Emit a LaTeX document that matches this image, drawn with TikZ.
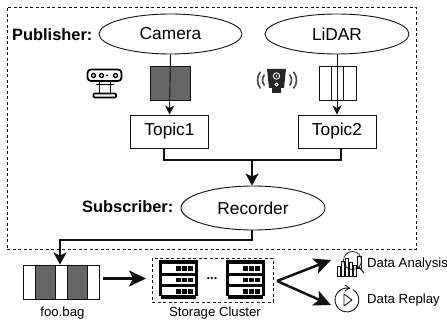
\documentclass[tikz,border=0pt]{standalone}
\usepackage{fontspec}
\setmainfont{Liberation Sans}
\usetikzlibrary{arrows.meta,shapes.geometric}
\definecolor{grayfill}{HTML}{666666}
\definecolor{ink}{HTML}{111111}
\tikzset{
  x=1pt,y=-1pt,
  oval/.style={draw=ink,ellipse,line width=0.9pt,minimum width=#1,minimum height=40pt,inner sep=0pt,font=\fontsize{17.3}{19}\selectfont},
  topicbox/.style={draw=ink,line width=0.9pt,minimum width=78pt,minimum height=33pt,inner sep=0pt,font=\fontsize{17.3}{19}\selectfont},
  seg/.style={draw=ink,line width=0.9pt,minimum height=34pt,inner sep=0pt,minimum width=#1},
  boundbox/.style={draw=ink,dashed,dash pattern=on 3pt off 2.5pt,line width=0.9pt},
  thinarrow/.style={draw=ink,line width=0.9pt,-{Stealth[length=9pt,width=9pt,inset=2.5pt]}},
  thickarrow/.style={draw=ink,line width=1.9pt,-{Stealth[length=12pt,width=13pt,inset=3pt]}},
  bigarrow/.style={draw=ink,line width=2.5pt,-{Stealth[length=17pt,width=16pt,inset=4pt]}},
  thickline/.style={draw=ink,line width=1.9pt},
  lab/.style={inner sep=0pt,font=\fontsize{13.2}{15}\selectfont},
  boldlab/.style={inner sep=0pt,font=\fontsize{16.4}{18}\selectfont\bfseries},
  server/.pic={
    \fill[black] (0,0) rectangle (39,36);
    \fill[black] (2,36) rectangle (37,39);
    \foreach \a/\b in {4/12.5,16/23.5,27/35}{
      \fill[white] (3,\a) rectangle (36,\b);
      \fill[black] (17,\a+1.5) rectangle (22,\b-1.5);
      \fill[black] (23,\a+1.5) rectangle (28,\b-1.5);
      \fill[black] (29,\a+1.5) rectangle (34,\b-1.5);
    }
  }
}
\begin{document}
\begin{tikzpicture}
\useasboundingbox (0,0) rectangle (447,323);
% outer dashed box
\node[boundbox,minimum width=409pt,minimum height=242pt,inner sep=0pt] (pubbox) at (211.5,128) {};
% ellipses
\node[oval=143pt] (camera) at (170.5,34) {Camera};
\node[oval=144pt] (lidar) at (337,34) {LiDAR};
\node[oval=144pt,minimum height=44pt] (recorder) at (253,208) {Recorder};
% labels
\node[boldlab,anchor=west] (publisher) at (12,35) {Publisher:};
\node[boldlab,anchor=west] (subscriber) at (82,207) {Subscriber:};
% messages
\node[seg=40pt,fill=grayfill] (msgcam) at (170,83) {};
\node[seg=12.3pt] (l1) at (325.2,83) {};
\node[seg=12.3pt] (l2) at (337.5,83) {};
\node[seg=12.3pt] (l3) at (349.8,83) {};
% topics
\node[topicbox] (topic1) at (169.5,131.5) {Topic1};
\node[topicbox] (topic2) at (337,131.5) {Topic2};
% connectors
\draw[thinarrow] (camera.south) -- (topic1.north);
\draw[thinarrow] (lidar.south) -- (topic2.north);
\coordinate (j1) at (164,160);
\coordinate (j2) at (341,160);
\coordinate (j3) at (252,160);
\draw[thickline] (topic1.south -| j1) -- (j1) -- (j2) -- (topic2.south -| j2);
\draw[thickarrow] (j3) -- (j3 |- recorder.north);
% bag
\node[seg=12pt] (b1) at (29,282) {};
\node[seg=20pt,fill=grayfill] (b2) at (45,282) {};
\node[seg=12pt] (b3) at (61,282) {};
\node[seg=20pt,fill=grayfill] (b4) at (77,282) {};
\node[seg=12pt] (b5) at (93,282) {};
\coordinate (k1) at (252,240);
\coordinate (k2) at (60,240);
\draw[thickarrow] (recorder.south -| k1) -- (k1) -- (k2) -- (k2 |- b1.north);
\node[lab] (foobag) at (62.5,313) {foo.bag};
% storage
\node[boundbox,minimum width=121pt,minimum height=44pt,inner sep=0pt] (storage) at (212.5,280) {};
\pic at (159,260) {server};
\pic at (226,260) {server};
\node[inner sep=0pt,font=\fontsize{13}{15}\selectfont\bfseries] (dots) at (212,279) {...};
\node[lab] (storagelab) at (215,313) {Storage Cluster};
\coordinate (bagout) at (103,278.5);
\coordinate (bagin) at (146,278.5);
\draw[bigarrow] (bagout) -- (bagin);
% out arrows
\coordinate (fork) at (277,281);
\coordinate (an) at (331,260);
\coordinate (re) at (331,305);
\draw[bigarrow] (fork) -- (an);
\draw[bigarrow] (fork) -- (re);
% analysis icon
\begin{scope}[draw=ink,line width=0.7pt]
\draw (337,266) rectangle (340,276);
\draw (341,261) rectangle (344,276);
\draw (345,258) rectangle (348,276);
\draw (349,262) rectangle (352,276);
\draw (353,265) rectangle (356,276);
\draw (357,256) rectangle (361,268);
\draw (352.5,260.5) circle (9);
\draw[line width=1pt] (359,267) -- (364,273);
\end{scope}
% replay icon
\draw[draw=ink,line width=0.9pt] (350,288.4) arc[start angle=-75,end angle=-420,radius=12] ;
\draw[draw=ink,line width=0.9pt] (345,285) -- (349,288) -- (345,291);
\draw[draw=ink,line width=0.9pt,line join=round] (344,294) -- (352,300) -- (344,306) -- cycle;
\node[lab,anchor=west] (analysis) at (367,264) {Data Analysis};
\node[lab,anchor=west] (replay) at (367,300) {Data Replay};
% depth camera icon
\draw[draw=black,line width=1.8pt,rounded corners=3.5pt] (87.5,69.5) rectangle (121.5,81);
\fill[black] (107,75.5) circle (1);
\draw[line width=1.3pt] (93.5,75.5) circle (2) (101.5,75.5) circle (2) (115.5,75.5) circle (2);
\draw[line width=1.6pt] (99.5,81) -- (99.5,93);
\draw[line width=1.6pt] (110.5,81) -- (110.5,93);
\draw[line width=1.6pt] (96,84.5) -- (113.5,84.5);
\draw[line width=1.6pt,rounded corners=1pt] (93.5,93.5) rectangle (116,97.5);
% lidar icon
\fill[black!85] (267,69) -- (286,69) -- (284,88) -- (281,88) -- (281,93) -- (272,93) -- (272,88) -- (269,88) -- cycle;
\draw[white,line width=0.9pt] (276.5,76) circle (3.2);
\fill[white] (276.5,76) circle (0.9);
\draw[white,line width=0.8pt] (276.5,84.5) circle (1.6);
\draw[black!70,line width=1.6pt] (260.5,88.5) arc[start angle=140,end angle=220,radius=13];
\draw[black!70,line width=1.6pt] (264.5,85.5) arc[start angle=140,end angle=220,radius=8.5];
\draw[black!70,line width=1.6pt] (293.5,88.5) arc[start angle=40,end angle=-40,radius=13];
\draw[black!70,line width=1.6pt] (289.5,85.5) arc[start angle=40,end angle=-40,radius=8.5];
\end{tikzpicture}
\end{document}
